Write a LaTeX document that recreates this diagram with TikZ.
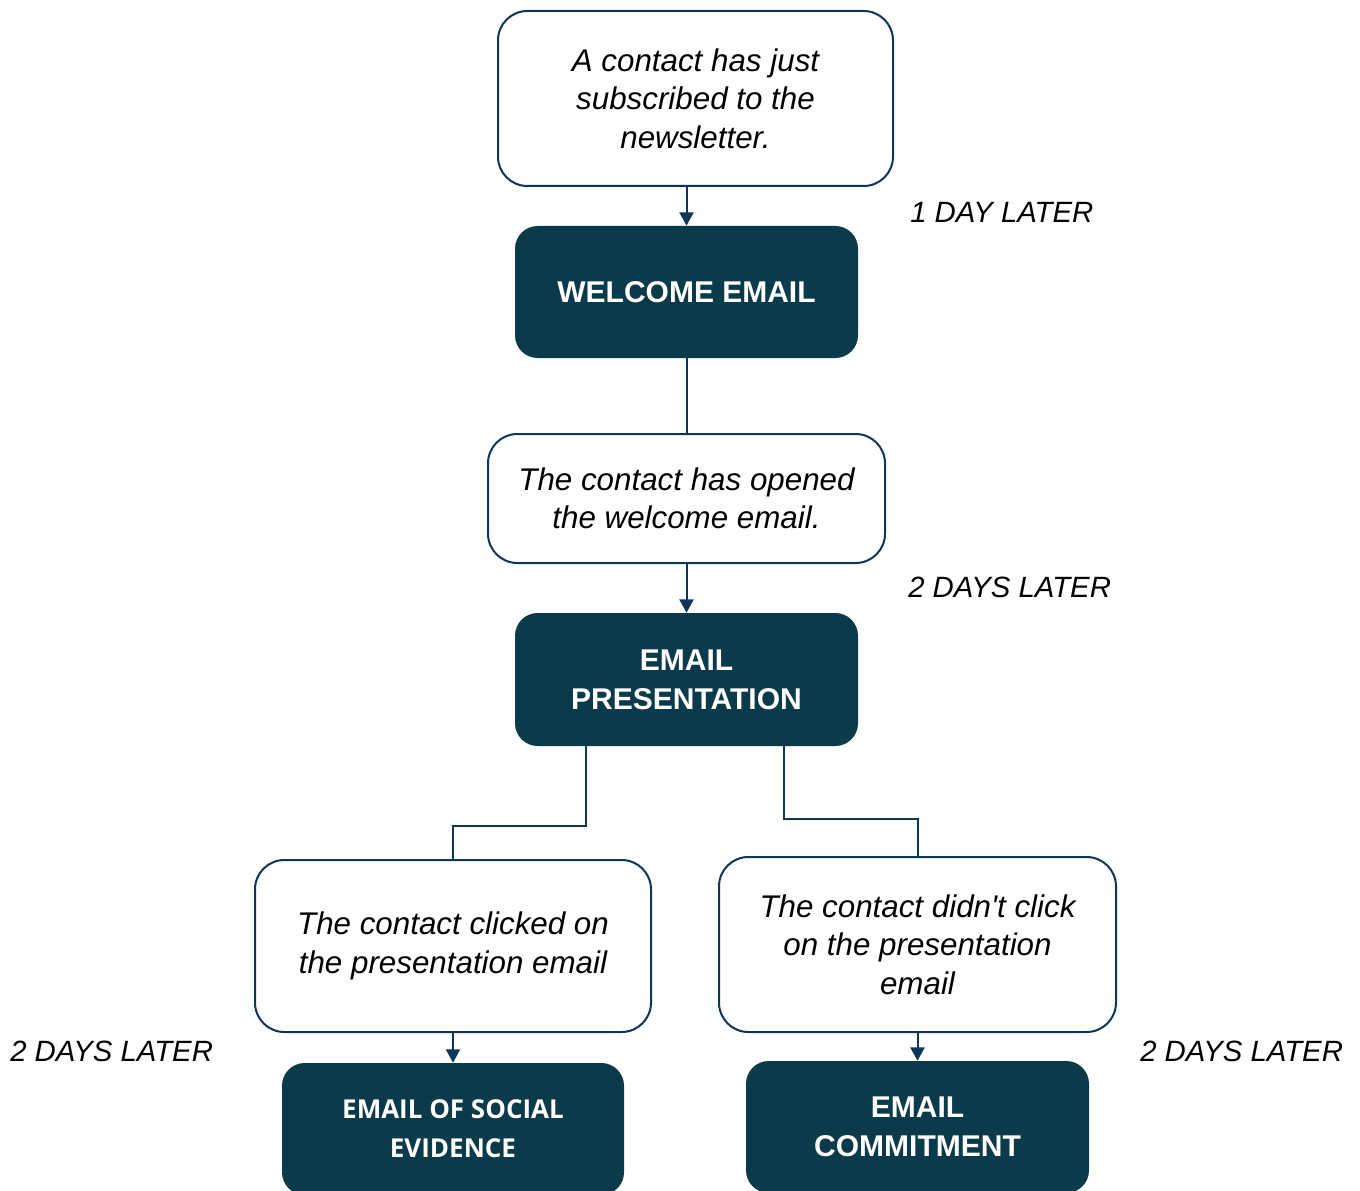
\documentclass[tikz,border=0pt]{standalone}
\usepackage{fontspec}
\setmainfont{Liberation Sans}
\newfontfamily\condfont{Liberation Sans}
\newfontfamily\boxbold{Open Sans}
\usetikzlibrary{arrows.meta,calc}
\definecolor{darkfill}{HTML}{0B3A4A}
\definecolor{edgeblue}{HTML}{0F3558}
\tikzset{
  condbox/.style={draw=edgeblue,line width=1.5pt,fill=white,rounded corners=22pt,align=center,
    font=\condfont\fontsize{23.5}{28.8}\selectfont\itshape,text=black,inner sep=0pt},
  mailbox/.style={fill=darkfill,rounded corners=17pt,align=center,text=white,inner sep=0pt,
    font=\fontsize{22.5}{29}\selectfont\bfseries},
  delay/.style={anchor=west,inner sep=0pt,font=\fontsize{22}{27}\selectfont\itshape},
  conn/.style={draw=edgeblue,line width=1.5pt},
  arr/.style={conn,-{Triangle[length=10pt,width=10.5pt]}}
}
\begin{document}
\begin{tikzpicture}[x=0.75pt,y=-0.75pt]
\useasboundingbox (0,0) rectangle (1360,1191);
\node[condbox,minimum width=296.25pt,minimum height=131.25pt] (n1) at (695.5,98.5)
  {A contact has just\\subscribed to the\\newsletter.};
\node[mailbox,minimum width=257.25pt,minimum height=99pt] (n2) at (686.5,292) {WELCOME EMAIL};
\node[condbox,minimum width=297.75pt,minimum height=96.75pt] (n3) at (686.5,498.5)
  {The contact has opened\\the welcome email.};
\node[mailbox,minimum width=257.25pt,minimum height=99.75pt] (n4) at (686.5,679.5) {EMAIL\\PRESENTATION};
\node[condbox,minimum width=297pt,minimum height=129pt] (n5) at (453,946)
  {The contact clicked on\\the presentation email};
\node[condbox,minimum width=297.75pt,minimum height=131.25pt] (n6) at (917.5,944.5)
  {The contact didn't click\\on the presentation\\email};
\node[mailbox,minimum width=256.5pt,minimum height=99pt,font=\boxbold\fontsize{19.5}{29.5}\selectfont\bfseries] (n7) at (453,1129) {EMAIL OF SOCIAL\\EVIDENCE};
\node[mailbox,minimum width=257.25pt,minimum height=99pt] (n8) at (917.5,1127) {EMAIL\\COMMITMENT};

\node[delay] (l1) at (910,212) {1 DAY LATER};
\node[delay] (l2) at (908,587) {2 DAYS LATER};
\node[delay] (l3) at (10,1051) {2 DAYS LATER};
\node[delay] (l4) at (1140,1051) {2 DAYS LATER};

\draw[arr] (n1.south -| n2.north) -- (n2.north);
\draw[conn] (n2.south) -- (n3.north);
\draw[arr] (n3.south) -- (n4.north);
\draw[conn] ([xshift=-75.4pt]n4.south) -- ++(0,80) -| (n5.north);
\draw[conn] ([xshift=73.1pt,yshift=12pt]n4.south) -- ++(0,89) -| (n6.north);
\draw[arr] (n5.south) -- (n7.north);
\draw[arr] (n6.south) -- (n8.north);
\end{tikzpicture}
\end{document}
